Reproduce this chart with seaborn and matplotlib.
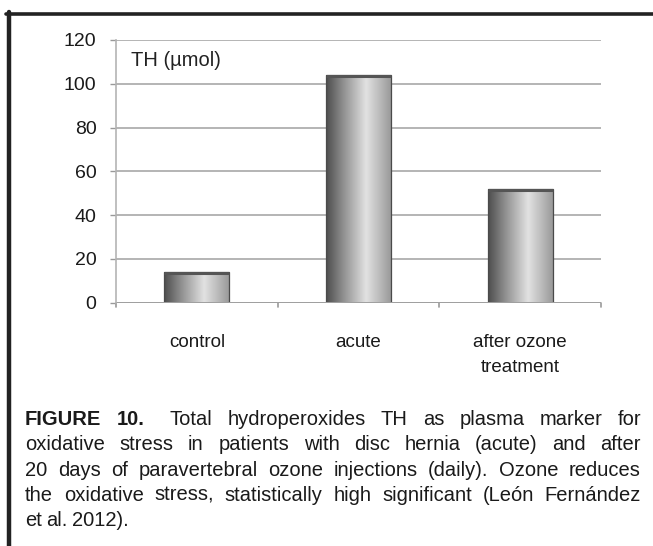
import numpy as np
import pandas as pd
import matplotlib
matplotlib.use("Agg")
import matplotlib.pyplot as plt
from matplotlib.lines import Line2D
from matplotlib.colors import LinearSegmentedColormap
import seaborn as sns

# values
categories = ["control", "acute", "after ozone\ntreatment"]
th_values = [14, 104, 52]
y_ticks = [0, 20, 40, 60, 80, 100, 120]
unit_label = "TH (µmol)"

caption_lines = [
    ["FIGURE", "10.", "Total", "hydroperoxides", "TH", "as", "plasma", "marker", "for"],
    ["oxidative", "stress", "in", "patients", "with", "disc", "hernia", "(acute)", "and", "after"],
    ["20", "days", "of", "paravertebral", "ozone", "injections", "(daily).", "Ozone", "reduces"],
    ["the", "oxidative", "stress,", "statistically", "high", "significant", "(León", "Fernández"],
    ["et", "al.", "2012)."],
]

sns.set_theme(style="white")
plt.rcParams["font.family"] = ["Liberation Sans", "DejaVu Sans"]

W, H = 653, 546
fig = plt.figure(figsize=(W / 100, H / 100), dpi=100)
ax = fig.add_axes([116 / W, 1 - 302.5 / H, (601 - 116) / W, (302.5 - 40) / H])

df = pd.DataFrame({"group": categories, "th": th_values})
sns.barplot(data=df, x="group", y="th", ax=ax, width=0.4,
            color="#999999", edgecolor="#4a4a4a", linewidth=0.9)

# cylinder-like shading on every bar
shade = LinearSegmentedColormap.from_list(
    "cyl", [(0, "#4d4d4d"), (0.25, "#8c8c8c"), (0.62, "#e2e2e2"), (1, "#9a9a9a")])
grad = np.linspace(0, 1, 256).reshape(1, -1)
for p in ax.patches:
    x0, y0 = p.get_x(), p.get_y()
    w, h = p.get_width(), p.get_height()
    p.set_facecolor("none")
    im = ax.imshow(grad, cmap=shade, aspect="auto", extent=[x0, x0 + w, y0, y0 + h],
                   zorder=p.get_zorder() - 0.1, interpolation="bicubic")
    im.set_clip_path(p)
    # darker rim at the top of the cylinder
    ax.plot([x0, x0 + w], [y0 + h - 0.6, y0 + h - 0.6], color="#555555", lw=2.2,
            solid_capstyle="butt", zorder=p.get_zorder() + 0.1)

ax.set_xlim(-0.5, len(categories) - 0.5)
ax.set_ylim(0, 120)
ax.set_yticks(y_ticks)
ax.set_xlabel("")
ax.set_ylabel("")

ax.yaxis.grid(True, color="#b4b4b4", lw=1.4)
ax.set_axisbelow(True)
for s in ["top", "right", "bottom"]:
    ax.spines[s].set_visible(False)
ax.spines["left"].set_color("#b4b4b4")
ax.spines["left"].set_linewidth(1.2)

ax.tick_params(axis="y", left=True, length=4, width=1.0, color="#999999",
               labelsize=14, pad=10, labelcolor="#1a1a1a")
ax.tick_params(axis="x", bottom=False, labelsize=13.5, pad=17, labelcolor="#1a1a1a")
for lab in ax.get_xticklabels():
    lab.set_linespacing(1.55)
# category separators below the axis
for b in np.arange(-0.5, len(categories), 1.0):
    ax.plot([b, b], [0, -2.2], color="#999999", lw=1.2, clip_on=False)
ax.axhline(0, color="#a0a0a0", lw=1.4)

ax.text(0.03, 0.96, unit_label, transform=ax.transAxes, ha="left", va="top",
        fontsize=14.5, color="#222222")

# frame of the figure panel
fig.add_artist(Line2D([6 / W, 1], [1 - 13.5 / H, 1 - 13.5 / H],
                      transform=fig.transFigure, color="#222222", lw=2.6))
fig.add_artist(Line2D([9 / W, 9 / W], [1 - 12 / H, 0],
                      transform=fig.transFigure, color="#222222", lw=3.2))

# justified caption
renderer = fig.canvas.get_renderer()
left_px, right_px = 25, 641
base0, step = 425, 25.3
cap_size = 14.5
for i, words in enumerate(caption_lines):
    y = 1 - (base0 + i * step) / H
    texts = []
    for j, wd in enumerate(words):
        bold = (i == 0 and j < 2)
        t = fig.text(0, y, wd, fontsize=cap_size, color="#1a1a1a", va="baseline",
                     ha="left", fontweight="bold" if bold else "normal")
        texts.append(t)
    widths = [t.get_window_extent(renderer).width for t in texts]
    gaps = [1.0] * (len(words) - 1)
    if i < len(caption_lines) - 1:
        if i == 0:
            gaps[1] = 1.7
        unit = (right_px - left_px - sum(widths)) / sum(gaps)
    else:
        unit = 4.5
    x = left_px
    for j, t in enumerate(texts):
        t.set_x(x / W)
        x += widths[j]
        if j < len(gaps):
            x += gaps[j] * unit

fig.savefig("out.png", dpi=100)
